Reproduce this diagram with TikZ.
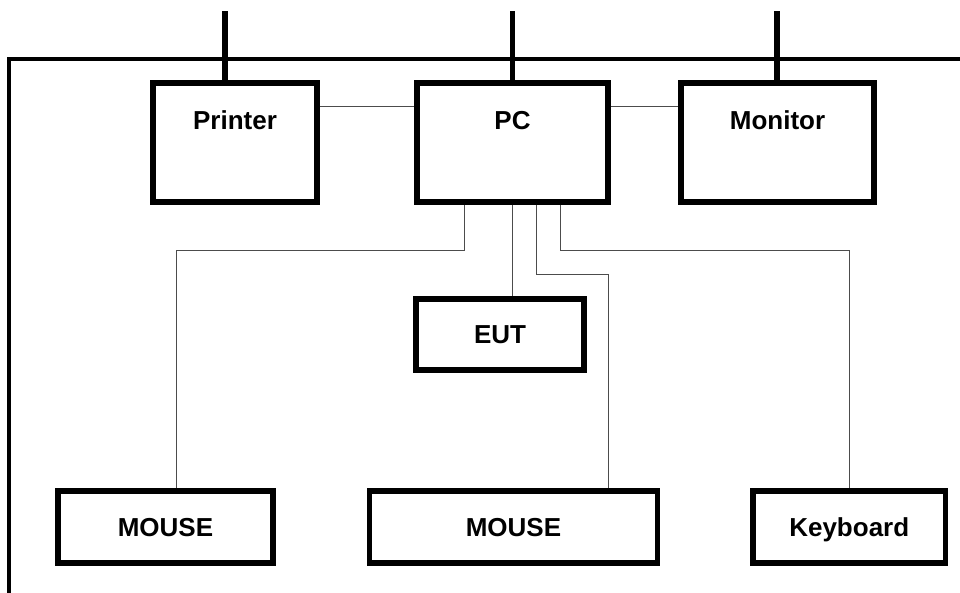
\documentclass[tikz,border=0pt]{standalone}
\usepackage{fontspec}
\setmainfont{Liberation Sans}
\usetikzlibrary{positioning,calc}
\tikzset{
  eqfont/.style={font=\bfseries\fontsize{26}{30}\selectfont, text height=18.6pt, text depth=0pt},
  eqbox/.style={draw, line width=5.6pt, inner sep=0pt, fill=white, eqfont},
  eqtext/.style={eqfont, yshift=22.5pt},
  eqwire/.style={draw=black!70, line width=1pt},
  eqfeed/.style={line width=5.3pt},
  eqframe/.style={line width=3.8pt},
}

\begin{document}
\begin{tikzpicture}[x=1pt, y=-1pt]
  \useasboundingbox (0,0) rectangle (960,592);
  % frame
  \coordinate (frbl) at (9.3,596);
  \coordinate (frtr) at (964,59.3);
  \draw[eqframe] (frbl) |- (frtr);
  % top row
  \node[eqbox, minimum width=164pt, minimum height=119pt, label={[eqtext]center:Printer}] (printer) at (235,142.5) {};
  \node[eqbox, minimum width=191pt, minimum height=119pt, label={[eqtext]center:PC}] (pc) at (512.5,142.5) {};
  \node[eqbox, minimum width=193pt, minimum height=119pt, label={[eqtext]center:Monitor}] (monitor) at (777.5,142.5) {};
  % feeds from above
  \coordinate (printerin) at (225,11);
  \coordinate (pcin) at (512.5,11);
  \coordinate (monitorin) at (777,11);
  \draw[eqfeed] (printerin) -- (printerin |- printer.north);
  \draw[eqfeed] (pcin) -- (pc.north);
  \draw[eqfeed] (monitorin) -- (monitorin |- monitor.north);
  % EUT and bottom row
  \node[eqbox, minimum width=168pt, minimum height=71pt] (eut) at (500,334.5) {EUT};
  \node[eqbox, minimum width=215pt, minimum height=72pt] (mouseA) at (165.5,527) {MOUSE};
  \node[eqbox, minimum width=288pt, minimum height=72pt] (mouseB) at (513.5,527) {MOUSE};
  \node[eqbox, minimum width=192.5pt, minimum height=72pt] (keyboard) at (849.25,527) {Keyboard};
  % cables
  \coordinate (bus) at (0,106);
  \draw[eqwire] (printer.east |- bus) -- (pc.west |- bus);
  \draw[eqwire] (pc.east |- bus) -- (monitor.west |- bus);
  \draw[eqwire] ([xshift=-48.5pt]pc.south) -- ++(0,46) -| ([xshift=10.5pt]mouseA.north);
  \draw[eqwire] (pc.south) -- (pc.south |- eut.north);
  \draw[eqwire] ([xshift=23.5pt]pc.south) -- ++(0,70) -| ([xshift=94.5pt]mouseB.north);
  \draw[eqwire] ([xshift=47.5pt]pc.south) -- ++(0,46) -| (keyboard.north);
\end{tikzpicture}
\end{document}
